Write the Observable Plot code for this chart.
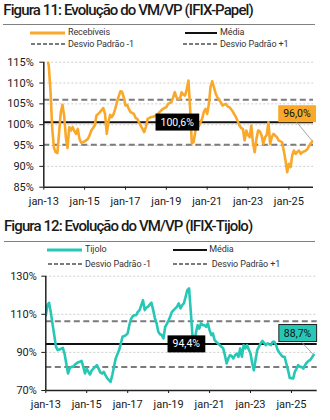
<!DOCTYPE html>
<html><head><meta charset="utf-8">
<script src="https://cdn.jsdelivr.net/npm/d3@7"></script>
<script src="https://cdn.jsdelivr.net/npm/@observablehq/plot@0.6"></script>
<style>
html,body{margin:0;padding:0;background:#fff}
body{width:330px;height:420px;position:relative;overflow:hidden;font-family:Roboto,sans-serif}
.abs{position:absolute}
.title{font-size:15px;font-weight:500;letter-spacing:-0.9px;color:#1a1a1a;white-space:nowrap;line-height:15px}
.rule{height:1px;background:#808080}
.leg{font-size:9px;color:#333;white-space:nowrap;line-height:9px;letter-spacing:-0.1px}
</style></head>
<body>
<script>
// ---------- DATA ----------
const startMonth = "2013-01";
const papelValues = [124,120,116.5,114,108,99,94.5,93.4,93.2,98,103,104.8,102,96.8,94.4,99.4,98.6,99.4,98.5,97.8,
99,96.6,95.7,95.8,96,96.3,96.6,97.5,98.6,99.2,99.8,102.2,102.6,103,103.5,104,102.6,97.8,100.6,102.4,
101.8,102.5,103.8,105.4,106.8,108,107.9,106.5,104.6,104.7,103.8,103,102.8,102.6,101.6,101.4,100.5,99.8,99,98.2,
99.5,101.4,101.6,101.8,101.9,102,102.2,102.5,103,103.4,103.8,104,104.2,105,105.2,105.4,106.5,107.8,106.6,106.2,
106.2,107.8,107.2,107,108.5,110.6,104,95.5,95.8,98.2,100.6,99.6,100.5,101.4,103,103.8,102.6,105,109,110.4,
109,107.5,106.6,106,105.4,104.6,104.8,105,104.4,104.2,103.8,103.2,102.5,101.8,100.8,99.8,99.2,99,96.2,98.6,
97.5,97,99.8,95.4,93.4,96.6,98.6,98.4,97.4,95.4,97,97.5,100.6,95.4,97,97.8,97.4,97,96.2,96,
95.8,93.8,91.5,88.6,90.6,89.8,92.6,93.8,93,93.5,93.8,93,93.4,93.6,93.8,94.2,95,95.6,96.0];
const tijoloValues = [109.5,115,116,111,105,99,93,91.2,91.5,92,92.4,89.4,84.2,78.9,81.5,82.4,82.4,83.5,84.2,84.8,
85.1,85.5,82.4,78.9,81.5,79.8,78.4,80.6,81.5,82.4,83.3,81.5,79.5,78.9,79.8,78.1,76.5,75.5,74.5,78.1,
82.4,86.8,89,91.2,94.7,98.2,98.6,99.1,100,104.5,107.5,109,109.5,109.5,111.3,112.2,114.8,117.4,112.2,113.5,
114,115.2,116.1,112.2,108,105.2,100.8,99.5,99.1,97.3,103.4,105,106.9,109,111.3,112.2,113.1,114,115.7,113.1,
114.8,115.7,119.2,122.7,123.6,111.3,99,94.7,100,104.3,102.5,105.2,104.3,104.3,103.4,105.2,101.7,99.1,100,96.4,
95.5,94.7,93.8,93,92.1,88.6,84.2,86.8,88.6,88,86.8,88.5,89.4,87.7,92.1,87.7,93.8,92.1,93.8,91.5,
89.4,84.2,80.6,86,91.2,93,94.7,96,95,93.8,94.7,94.2,93.8,95.5,95.5,93.8,91.2,89.8,88.6,87.7,
87.7,84.2,80.6,76.6,76.5,76.3,79.8,81.5,83.3,82.4,82.4,81.5,83.3,84.7,85.5,86,87.3,88.7];

const papelMean = 100.6;
const papelStdBands = [95.2, 106.0];
const tijoloMean = 94.4;
const tijoloStdBands = [82.4, 106.3];

const xTickDates = ["2013-01-01","2015-01-01","2017-01-01","2019-01-01","2021-01-01","2023-01-01","2025-01-01"];
const xTickLabels = ["jan-13","jan-15","jan-17","jan-19","jan-21","jan-23","jan-25"];
const papelYTicks = [85,90,95,100,105,110,115];
const papelGrid = [90,95,100,105,110,115];
const tijoloYTicks = [70,90,110,130];
const tijoloGrid = [90,110,130];

const papelTitle = "Figura 11: Evolução do VM/VP (IFIX-Papel)";
const tijoloTitle = "Figura 12: Evolução do VM/VP (IFIX-Tijolo)";
const papelLegend = ["Recebíveis","Média","Desvio Padrão -1","Desvio Padrão +1"];
const tijoloLegend = ["Tijolo","Média","Desvio Padrão -1","Desvio Padrão +1"];

// value labels (anchor date, anchor value, text)
const papelMeanLabel = {date:"2019-07-15", value:papelMean, text:"100,6%"};
const papelLastLabel = {date:"2025-05-25", value:102.6, text:"96,0%", lineFrom:["2025-05-20",100.6]};
const tijoloMeanLabel = {date:"2019-11-12", value:tijoloMean, text:"94,4%"};
const tijoloLastLabel = {date:"2025-04-20", value:100.1, text:"88,7%", lineFrom:["2025-06-15",95.9]};

const ORANGE = "#F9A82A";
const TEAL = "#27C7B6";
const GRAYDASH = "#7b7b7b";

// ---------- HELPERS ----------
const body = document.body;
function div(cls, left, top, text){
  const d = document.createElement("div");
  d.className = "abs " + cls;
  d.style.left = left + "px"; d.style.top = top + "px";
  if (text != null) d.textContent = text;
  body.appendChild(d); return d;
}
function rule(left, top, width){ const d = div("rule", left, top); d.style.width = width + "px"; }
function swatch(x1, x2, y, color, w, dash){
  const ns = "http://www.w3.org/2000/svg";
  const s = document.createElementNS(ns, "svg");
  s.setAttribute("width", x2 - x1); s.setAttribute("height", 6);
  s.style.position = "absolute"; s.style.left = x1 + "px"; s.style.top = (y - 3) + "px";
  const l = document.createElementNS(ns, "line");
  l.setAttribute("x1", 0); l.setAttribute("x2", x2 - x1); l.setAttribute("y1", 3); l.setAttribute("y2", 3);
  l.setAttribute("stroke", color); l.setAttribute("stroke-width", w);
  if (dash) l.setAttribute("stroke-dasharray", dash);
  s.appendChild(l); body.appendChild(s);
}
const parseMonth = d3.utcParse("%Y-%m");
function monthly(values){
  const s = parseMonth(startMonth);
  return values.map((v, i) => ({date: d3.utcMonth.offset(s, i), value: v}));
}
function boxFor(t, fill, stroke, padX, padY){
  const b = t.getBBox();
  const r = document.createElementNS("http://www.w3.org/2000/svg", "rect");
  r.setAttribute("x", b.x - padX); r.setAttribute("y", b.y - padY);
  r.setAttribute("width", b.width + 2*padX); r.setAttribute("height", b.height + 2*padY);
  r.setAttribute("fill", fill);
  if (stroke) { r.setAttribute("stroke", stroke); r.setAttribute("stroke-width", 1); }
  if (t.getAttribute("transform")) r.setAttribute("transform", t.getAttribute("transform"));
  t.parentNode.insertBefore(r, t);
}
const tickDates = xTickDates.map(d => new Date(d));
const xFmt = d => { const i = tickDates.findIndex(t => +t === +d); return i < 0 ? "" : xTickLabels[i]; };

function chart(o){
  const data = monthly(o.values);
  const last = data[data.length - 1];
  const x0 = parseMonth(startMonth);
  const svg = Plot.plot({
    width: 330, height: o.height,
    marginLeft: o.ml, marginRight: o.mr, marginTop: o.mt, marginBottom: o.mb,
    style: {fontFamily: "Roboto, sans-serif", fontSize: "11px", color: "#1a1a1a", background: "transparent", overflow: "visible"},
    x: {type: "utc", domain: [x0, new Date(o.xEnd)], ticks: tickDates, tickFormat: xFmt, tickSize: 3, tickPadding: 7, label: null},
    y: {domain: o.yDomain, ticks: o.yTicks, tickFormat: d => d + "%", tickSize: 4, tickPadding: o.yPad, label: null},
    marks: [
      Plot.ruleY(o.grid, {stroke: "#cdcdcd", strokeWidth: 1, strokeDasharray: "2,2"}),
      Plot.ruleY(o.sd, {stroke: GRAYDASH, strokeWidth: 2, strokeDasharray: "6,3.5"}),
      Plot.ruleY([o.mean], {stroke: "#111", strokeWidth: 2}),
      Plot.line(data, {x: "date", y: "value", stroke: o.color, strokeWidth: 2.6, clip: true}),
      Plot.ruleX([x0], {stroke: "#222", strokeWidth: 1.5}),
      Plot.ruleY([o.yDomain[0]], {stroke: "#222", strokeWidth: 1.5}),
      Plot.link([{x1: new Date(o.lastLabel.lineFrom[0]), y1: o.lastLabel.lineFrom[1], x2: last.date, y2: last.value}],
        {x1: "x1", y1: "y1", x2: "x2", y2: "y2", stroke: "#9a9a9a", strokeWidth: 0.9}),
      Plot.text([o.meanLabel, o.lastLabel], {x: d => new Date(d.date), y: "value", text: "text",
        fill: (d, i) => i === 0 ? "#fff" : "#111", fontSize: 10.5})
    ]
  });
  svg.style.position = "absolute"; svg.style.left = "0px"; svg.style.top = o.top + "px";
  body.appendChild(svg);
  const texts = [...svg.querySelectorAll("text")].filter(t => t.textContent === o.meanLabel.text || t.textContent === o.lastLabel.text);
  texts.forEach(t => {
    if (t.textContent === o.meanLabel.text) { boxFor(t, "#000", null, 5, 2); t.setAttribute("fill", "#fff"); }
    else { boxFor(t, o.boxFill, o.boxStroke, 5, 2); t.setAttribute("fill", "#111"); }
  });
  return svg;
}

// ---------- FIGURE 11 ----------
div("title", 3.3, 3.4, papelTitle);
rule(3.3, 24, 312);
swatch(30, 65, 32.5, ORANGE, 3);
div("leg", 68, 28.1, papelLegend[0]);
swatch(185, 217, 32.5, "#111", 2);
div("leg", 220, 28.1, papelLegend[1]);
swatch(31, 65, 44, GRAYDASH, 2, "4,2");
div("leg", 68, 39.5, papelLegend[2]);
swatch(183, 217, 44, GRAYDASH, 2, "4,2");
div("leg", 220, 39.5, papelLegend[3]);
chart({values: papelValues, mean: papelMean, sd: papelStdBands, grid: papelGrid, yTicks: papelYTicks,
  yDomain: [85, 115], color: ORANGE, top: 52, height: 156, mt: 9.7, mb: 21.3, ml: 43.3, mr: 17, yPad: 6,
  xEnd: "2026-03-17", meanLabel: papelMeanLabel, lastLabel: papelLastLabel, boxFill: ORANGE, boxStroke: null});

// ---------- FIGURE 12 ----------
div("title", 4, 219.1, tijoloTitle);
rule(4, 240.7, 311);
swatch(47, 82, 249.5, TEAL, 3);
div("leg", 85, 244.8, tijoloLegend[0]);
swatch(173, 207, 249.5, "#111", 2);
div("leg", 209.3, 244.8, tijoloLegend[1]);
swatch(48, 82, 264, GRAYDASH, 2, "4,2");
div("leg", 85, 259.8, tijoloLegend[2]);
swatch(173, 208, 264, GRAYDASH, 2, "4,2");
div("leg", 211.7, 259.8, tijoloLegend[3]);
chart({values: tijoloValues, mean: tijoloMean, sd: tijoloStdBands, grid: tijoloGrid, yTicks: tijoloYTicks,
  yDomain: [70, 130], color: TEAL, top: 268, height: 146, mt: 7.7, mb: 24, ml: 45.3, mr: 13.3, yPad: 5,
  xEnd: "2026-04-05", meanLabel: tijoloMeanLabel, lastLabel: tijoloLastLabel, boxFill: TEAL, boxStroke: "#222"});
</script>
</body></html>
